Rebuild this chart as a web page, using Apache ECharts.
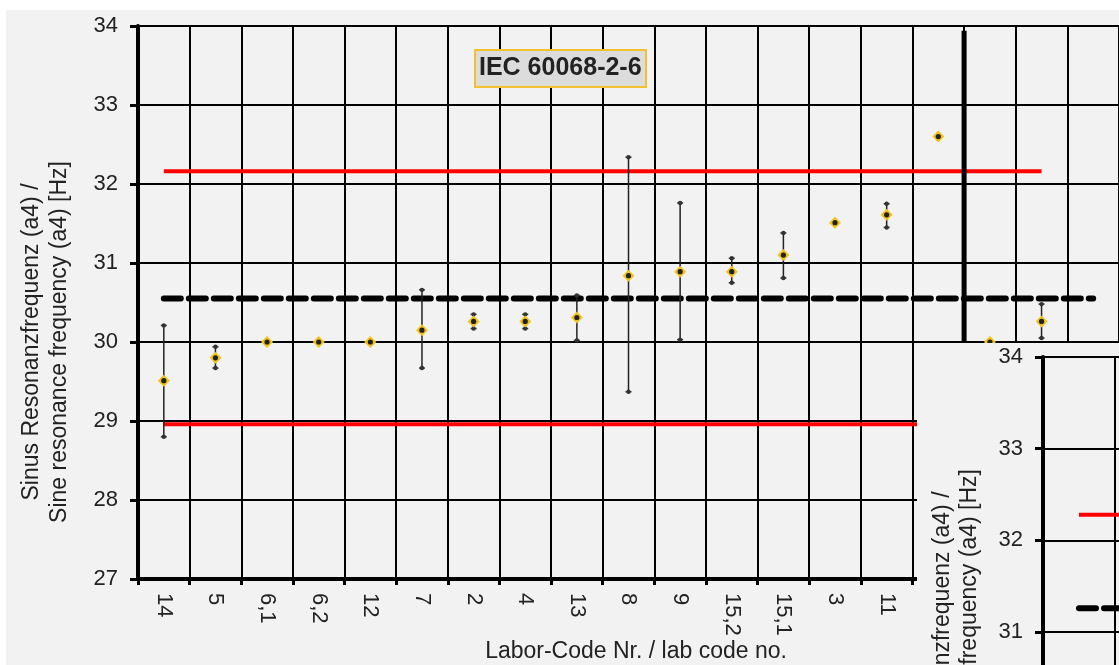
<!DOCTYPE html>
<html>
<head>
<meta charset="utf-8">
<script src="https://cdn.jsdelivr.net/npm/echarts@6/dist/echarts.min.js"></script>
<style>
html,body{margin:0;padding:0;background:#fff}
#main{width:1119px;height:665px}
</style>
</head>
<body>
<div id="main"></div>
<script>
// Ringversuch: Sinus Resonanzfrequenz (a4)
var labCodes = ['14','5','6,1','6,2','12','7','2','4','13','8','9','15,2','15,1','3','11','','','',''];
var meanVals = [29.51, 29.80, 30.00, 30.00, 30.00, 30.15, 30.26, 30.26, 30.31, 30.84, 30.89, 30.89, 31.10, 31.51, 31.61, 32.60, 30.00, 30.26, null];
var lowVals  = [28.80, 29.67, null, null, null, 29.67, 30.17, 30.17, 30.02, 29.37, 30.03, 30.75, 30.81, null, 31.45, null, null, 30.05, null];
var highVals = [30.21, 29.94, null, null, null, 30.66, 30.35, 30.35, 30.59, 32.34, 31.76, 31.06, 31.38, null, 31.75, null, null, 30.48, null];
var upperLimit = 32.16;
var lowerLimit = 28.96;
var meanLine = 30.55;
var yTicks = [27, 34];

// zweites (verdecktes) Diagramm unten rechts
var insetSlots = [0, 5];
var insetUpper = 32.28;
var insetMean = 31.26;
var insetTicks = [27, 34];

var FONT = 'Liberation Sans, Arial, sans-serif';
var TXT = '#222';

(function (){
var dom = document.getElementById('main');
var myChart = echarts.init(dom);
var option = null;

var pts = [];
for (var i = 0; i < meanVals.length; i++) {
  if (meanVals[i] != null) pts.push([i, meanVals[i]]);
}

function renderPoint(params, api) {
  var idx = api.value(0);
  var c = api.coord([idx, api.value(1)]);
  var kids = [];
  if (lowVals[idx] != null && highVals[idx] != null) {
    var lo = api.coord([idx, lowVals[idx]]);
    var hi = api.coord([idx, highVals[idx]]);
    kids.push({type: 'line', shape: {x1: c[0], y1: hi[1], x2: c[0], y2: lo[1]},
      style: {stroke: '#222', lineWidth: 1.5}});
    [hi, lo].forEach(function (p) {
      kids.push({type: 'line', shape: {x1: c[0] - 3, y1: p[1], x2: c[0] + 3, y2: p[1]},
        style: {stroke: '#333', lineWidth: 1.5}});
      kids.push({type: 'circle', shape: {cx: c[0], cy: p[1], r: 2.2}, style: {fill: '#333'}});
    });
  }
  kids.push({type: 'polygon', shape: {points: [[c[0], c[1] - 6], [c[0] + 6, c[1]], [c[0], c[1] + 6], [c[0] - 6, c[1]]]},
    style: {fill: '#f2c218'}});
  kids.push({type: 'circle', shape: {cx: c[0], cy: c[1], r: 2.6}, style: {fill: '#222'}});
  return {type: 'group', children: kids};
}

function hline(v, from, to) { return [[from, v], [to, v]]; }

option = {
  backgroundColor: '#f2f2f2',
  animation: false,
  title: {
    text: 'IEC 60068-2-6',
    left: 475,
    top: 50,
    backgroundColor: '#dcdcdc',
    borderColor: '#f2c22e',
    borderWidth: 2,
    padding: [6, 5, 6, 4],
    textStyle: {fontFamily: FONT, fontWeight: 'bold', fontSize: 25, color: TXT}
  },
  grid: [
    {left: 138, top: 26, width: 981, height: 553, outerBoundsMode: 'none'},
    {left: 1043, top: 357, width: 360, height: 642, outerBoundsMode: 'none'}
  ],
  xAxis: [
    {
      type: 'category',
      gridIndex: 0,
      data: labCodes,
      boundaryGap: true,
      axisLine: {onZero: false, lineStyle: {color: '#000', width: 4}},
      axisTick: {show: true, interval: 0, length: 6, lineStyle: {color: '#000', width: 3}},
      axisLabel: {interval: 0, rotate: -90, margin: 14, fontFamily: FONT, fontSize: 22, color: TXT},
      splitLine: {show: true, interval: 0, lineStyle: {color: '#000', width: 2}}
    },
    {
      type: 'value',
      gridIndex: 0,
      min: -0.5,
      max: 18.5,
      show: false
    },
    {
      type: 'value',
      gridIndex: 1,
      min: insetSlots[0],
      max: insetSlots[1],
      interval: 1,
      zlevel: 1,
      z: 10,
      axisLine: {onZero: false, lineStyle: {color: '#000', width: 4}},
      axisTick: {show: false},
      axisLabel: {show: false},
      splitLine: {show: true, lineStyle: {color: '#000', width: 2}}
    }
  ],
  yAxis: [
    {
      type: 'value',
      gridIndex: 0,
      min: yTicks[0],
      max: yTicks[1],
      interval: 1,
      axisLine: {show: true, onZero: false, lineStyle: {color: '#000', width: 4}},
      axisTick: {show: true, length: 8, lineStyle: {color: '#000', width: 3}},
      axisLabel: {margin: 20, fontFamily: FONT, fontSize: 22, color: TXT},
      splitLine: {show: true, lineStyle: {color: '#000', width: 2}}
    },
    {
      type: 'value',
      gridIndex: 1,
      min: insetTicks[0],
      max: insetTicks[1],
      interval: 1,
      zlevel: 1,
      z: 10,
      axisLine: {show: true, onZero: false, lineStyle: {color: '#000', width: 4}},
      axisTick: {show: true, length: 8, lineStyle: {color: '#000', width: 3}},
      axisLabel: {margin: 20, fontFamily: FONT, fontSize: 22, color: TXT},
      splitLine: {show: true, lineStyle: {color: '#000', width: 2}}
    }
  ],
  graphic: [
    {type: 'rect', left: 0, top: 0, shape: {width: 1119, height: 10}, style: {fill: '#fff'}, z: -1},
    {type: 'rect', left: 0, top: 0, shape: {width: 6, height: 665}, style: {fill: '#fff'}, z: -1},
    {type: 'text', x: 32, y: 342, rotation: Math.PI / 2,
      style: {text: 'Sinus Resonanzfrequenz (a4) /', font: '23px ' + FONT, fill: TXT, textAlign: 'center', textVerticalAlign: 'middle'}},
    {type: 'text', x: 60, y: 342, rotation: Math.PI / 2,
      style: {text: 'Sine resonance frequency (a4) [Hz]', font: '23px ' + FONT, fill: TXT, textAlign: 'center', textVerticalAlign: 'middle'}},
    {type: 'text', x: 636, y: 652,
      style: {text: 'Labor-Code Nr. / lab code no.', font: '23px ' + FONT, fill: TXT, textAlign: 'center', textVerticalAlign: 'middle'}},
    // Abdeckung durch das zweite Diagramm (eigene Ebene)
    {type: 'rect', left: 917, top: 343, shape: {width: 202, height: 322}, style: {fill: '#f2f2f2'}, zlevel: 1, z: 0},
    {type: 'text', x: 943, y: 650, rotation: Math.PI / 2, zlevel: 1, z: 20,
      style: {text: 'Sinus Resonanzfrequenz (a4) /', font: '23px ' + FONT, fill: TXT, textAlign: 'center', textVerticalAlign: 'middle'}},
    {type: 'text', x: 970, y: 650, rotation: Math.PI / 2, zlevel: 1, z: 20,
      style: {text: 'Sine resonance frequency (a4) [Hz]', font: '23px ' + FONT, fill: TXT, textAlign: 'center', textVerticalAlign: 'middle'}}
  ],
  series: [
    {
      name: 'Grenze oben',
      type: 'line',
      xAxisIndex: 0, yAxisIndex: 0,
      data: hline(upperLimit, 0, 17),
      symbol: 'none',
      lineStyle: {color: '#ff0000', width: 4}
    },
    {
      name: 'Grenze unten',
      type: 'line',
      xAxisIndex: 0, yAxisIndex: 0,
      data: hline(lowerLimit, 0, 17),
      symbol: 'none',
      lineStyle: {color: '#ff0000', width: 4}
    },
    {
      name: 'Mittelwert',
      type: 'line',
      xAxisIndex: 0, yAxisIndex: 0,
      data: hline(meanLine, 0, 17.9),
      symbol: 'none',
      lineStyle: {color: '#000', width: 6, type: [17, 8], cap: 'round'}
    },
    {
      name: 'Trennlinie',
      type: 'line',
      xAxisIndex: 1, yAxisIndex: 0,
      data: [[15.5, yTicks[1] - 0.06], [15.5, yTicks[0]]],
      symbol: 'none',
      lineStyle: {color: '#000', width: 5}
    },
    {
      name: 'Labore',
      type: 'custom',
      xAxisIndex: 0, yAxisIndex: 0,
      renderItem: renderPoint,
      data: pts,
      z: 5
    },
    {
      name: 'Raster 2',
      type: 'line',
      xAxisIndex: 2, yAxisIndex: 1,
      data: [[insetSlots[0] + 1, insetTicks[1]], [insetSlots[0] + 1, insetTicks[0]]],
      symbol: 'none',
      zlevel: 1,
      z: 15,
      clip: false,
      lineStyle: {color: '#000', width: 2}
    },
    {
      name: 'Grenze oben 2',
      type: 'line',
      xAxisIndex: 2, yAxisIndex: 1,
      data: hline(insetUpper, 0.5, 4.5),
      symbol: 'none',
      zlevel: 1,
      z: 20,
      lineStyle: {color: '#ff0000', width: 4}
    },
    {
      name: 'Mittelwert 2',
      type: 'line',
      xAxisIndex: 2, yAxisIndex: 1,
      data: hline(insetMean, 0.5, 4.5),
      symbol: 'none',
      zlevel: 1,
      z: 20,
      lineStyle: {color: '#000', width: 6, type: [17, 8], cap: 'round'}
    }
  ]
};

if (option && typeof option === "object") {
  myChart.setOption(option, true);
}
})();
</script>
</body>
</html>
